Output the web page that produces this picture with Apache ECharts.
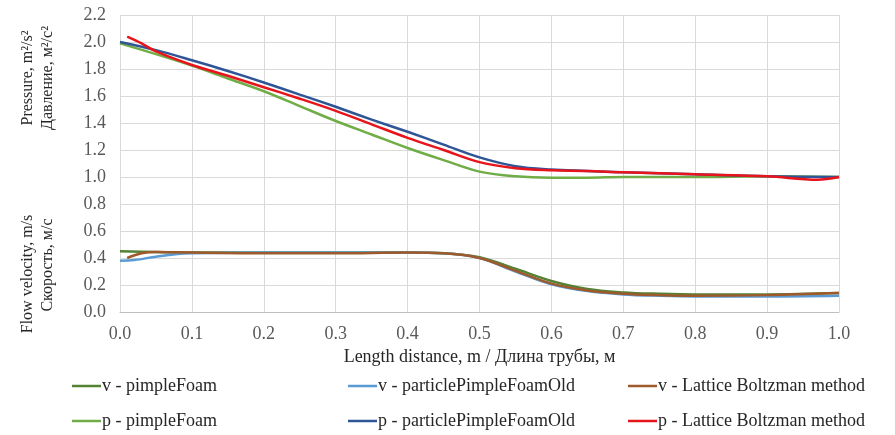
<!DOCTYPE html>
<html>
<head>
<meta charset="utf-8">
<script src="https://cdn.jsdelivr.net/npm/echarts@6/dist/echarts.min.js"></script>
<style>
html,body{margin:0;padding:0;background:#fff;}
#chart{width:895px;height:435px;}
</style>
</head>
<body>
<div id="chart"></div>
<script>
// ---- data ----
const seriesNames = [
  'v - pimpleFoam', 'v - particlePimpleFoamOld', 'v - Lattice Boltzman method',
  'p - pimpleFoam', 'p - particlePimpleFoamOld', 'p - Lattice Boltzman method'
];
const vPimpleX = [0, 0.05, 0.1, 0.2, 0.3, 0.4, 0.45, 0.5, 0.55, 0.6, 0.65, 0.7, 0.75, 0.8, 0.9, 1.0];
const vPimpleY = [0.45, 0.445, 0.44, 0.44, 0.44, 0.44, 0.435, 0.405, 0.32, 0.23, 0.17, 0.145, 0.135, 0.13, 0.13, 0.14];
const vOldX = [0, 0.02, 0.05, 0.08, 0.1, 0.2, 0.3, 0.4, 0.45, 0.5, 0.55, 0.6, 0.65, 0.7, 0.75, 0.8, 0.9, 1.0];
const vOldY = [0.38, 0.385, 0.41, 0.43, 0.435, 0.44, 0.44, 0.44, 0.435, 0.40, 0.30, 0.205, 0.155, 0.13, 0.12, 0.115, 0.115, 0.12];
const vLbmX = [0.01, 0.03, 0.05, 0.1, 0.2, 0.3, 0.4, 0.45, 0.5, 0.55, 0.6, 0.65, 0.7, 0.75, 0.8, 0.9, 1.0];
const vLbmY = [0.40, 0.435, 0.445, 0.44, 0.435, 0.435, 0.44, 0.435, 0.40, 0.305, 0.21, 0.16, 0.135, 0.125, 0.12, 0.125, 0.14];
const pPimpleX = [0, 0.05, 0.1, 0.15, 0.2, 0.25, 0.3, 0.35, 0.4, 0.45, 0.5, 0.55, 0.6, 0.65, 0.7, 0.8, 0.9, 1.0];
const pPimpleY = [1.99, 1.91, 1.825, 1.73, 1.635, 1.525, 1.415, 1.315, 1.215, 1.125, 1.04, 1.005, 0.995, 0.995, 1.0, 1.0, 1.005, 1.0];
const pOldX = [0, 0.05, 0.1, 0.15, 0.2, 0.25, 0.3, 0.35, 0.4, 0.45, 0.5, 0.55, 0.6, 0.65, 0.7, 0.8, 0.9, 1.0];
const pOldY = [2.0, 1.94, 1.865, 1.785, 1.70, 1.61, 1.52, 1.425, 1.335, 1.24, 1.145, 1.08, 1.055, 1.045, 1.035, 1.02, 1.005, 1.0];
const pLbmX = [0.01, 0.03, 0.05, 0.1, 0.15, 0.2, 0.25, 0.3, 0.35, 0.4, 0.45, 0.5, 0.55, 0.6, 0.65, 0.7, 0.8, 0.9, 0.97, 1.0];
const pLbmY = [2.04, 1.99, 1.93, 1.83, 1.75, 1.665, 1.58, 1.49, 1.39, 1.29, 1.20, 1.11, 1.065, 1.05, 1.045, 1.035, 1.02, 1.005, 0.98, 1.0];
const xTicks = ['0.0','0.1','0.2','0.3','0.4','0.5','0.6','0.7','0.8','0.9','1.0'];
const yTicks = ['0.0','0.2','0.4','0.6','0.8','1.0','1.2','1.4','1.6','1.8','2.0','2.2'];

// ---- styling ----
const colors = ['#548235', '#5b9bd5', '#9e5a2a', '#70ad47', '#2f5597', '#e8141c'];
const FONT = '"Liberation Serif", "Times New Roman", serif';
const xsList = [vPimpleX, vOldX, vLbmX, pPimpleX, pOldX, pLbmX];
const ysList = [vPimpleY, vOldY, vLbmY, pPimpleY, pOldY, pLbmY];

function pairs(xs, ys) { return xs.map((x, i) => [x, ys[i]]); }

const series = seriesNames.map((n, i) => ({
  name: n, type: 'line', data: pairs(xsList[i], ysList[i]),
  smooth: 0.35, showSymbol: false, symbol: 'none',
  lineStyle: { color: colors[i], width: 2.5 }, itemStyle: { color: colors[i] }
}));

const legendPos = [
  [72, 377], [348, 377], [628, 377],
  [72, 412], [348, 412], [628, 412]
];
const legends = seriesNames.map((n, i) => ({
  data: [n], left: legendPos[i][0], top: legendPos[i][1], padding: 0,
  icon: 'rect', itemWidth: 29, itemHeight: 2.5, itemGap: 0,
  textStyle: { fontFamily: FONT, fontSize: 18, color: '#262626', padding: [0, 0, 0, -4], lineHeight: 18 },
  selectedMode: false
}));

const chart = echarts.init(document.getElementById('chart'), null, { renderer: 'canvas' });
chart.setOption({
  animation: false,
  color: colors,
  grid: { left: 120, right: 56, top: 15, bottom: 123 },
  xAxis: {
    type: 'value', min: 0, max: 1, interval: 0.1,
    axisLine: { show: true, lineStyle: { color: '#bfbfbf', width: 1 } },
    axisTick: { show: false },
    splitLine: { show: true, lineStyle: { color: '#d9d9d9', width: 1 } },
    axisLabel: { fontFamily: FONT, fontSize: 18, color: '#595959', margin: 13,
      formatter: v => xTicks[Math.round(v * 10)] },
    name: 'Length distance, m / Длина трубы, м', nameLocation: 'middle', nameGap: 34,
    nameTextStyle: { fontFamily: FONT, fontSize: 18, color: '#262626' }
  },
  yAxis: {
    type: 'value', min: 0, max: 2.2, interval: 0.2,
    axisLine: { show: false }, axisTick: { show: false },
    splitLine: { show: true, lineStyle: { color: '#d9d9d9', width: 1 } },
    axisLabel: { fontFamily: FONT, fontSize: 18, color: '#595959', margin: 14,
      formatter: v => yTicks[Math.round(v * 5)] }
  },
  legend: legends,
  graphic: [
    { type: 'text', x: 28, y: 78, rotation: Math.PI / 2,
      style: { text: 'Pressure, m²/s²', fontFamily: FONT, fontSize: 16, fill: '#262626', align: 'center', verticalAlign: 'middle' } },
    { type: 'text', x: 48, y: 78, rotation: Math.PI / 2,
      style: { text: 'Давление, м²/с²', fontFamily: FONT, fontSize: 16, fill: '#262626', align: 'center', verticalAlign: 'middle' } },
    { type: 'text', x: 28, y: 274, rotation: Math.PI / 2,
      style: { text: 'Flow velocity, m/s', fontFamily: FONT, fontSize: 16, fill: '#262626', align: 'center', verticalAlign: 'middle' } },
    { type: 'text', x: 48, y: 265, rotation: Math.PI / 2,
      style: { text: 'Скорость, м/с', fontFamily: FONT, fontSize: 16, fill: '#262626', align: 'center', verticalAlign: 'middle' } }
  ],
  series: series
});
</script>
</body>
</html>
